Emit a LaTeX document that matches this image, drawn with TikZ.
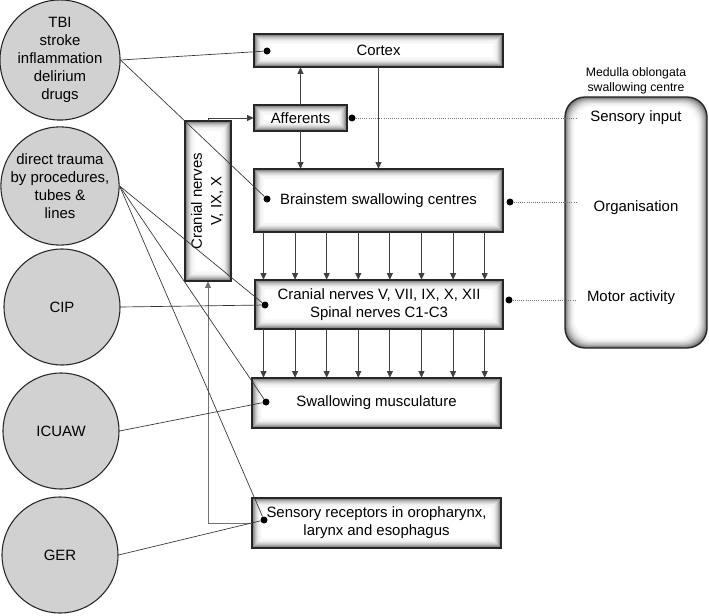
\documentclass[tikz,border=0pt]{standalone}
\usepackage{fontspec}
\usepackage{graphicx}
\setmainfont{Liberation Sans}
\usetikzlibrary{arrows.meta}
\tikzset{
  fs/.style={font=\fontsize{11.2}{13.5}\selectfont},
  fssmall/.style={font=\fontsize{9.2}{11.2}\selectfont},
  circ/.style={circle, draw=black!85, line width=0.8pt, fill=black!18, minimum size=87pt, inner sep=0pt, align=center, fs},
  shbox/.style={rectangle, inner sep=0pt, align=center, fs,
    path picture={
      \foreach \d/\g in {0/58,1/45,2/34,3/25,4/18,5/12,6/7,7/4,8/2,9/0}{
        \fill[black!\g] ([shift={(\d*0.8pt,-\d*0.8pt)}]path picture bounding box.north west) rectangle ([shift={(-\d*0.8pt,\d*0.8pt)}]path picture bounding box.south east);
      }
    },
    postaction={draw=black!85, line width=1pt}},
  medbox/.style={rectangle, rounded corners=15pt, inner sep=0pt,
    path picture={
      \foreach \d/\g in {0/58,1/45,2/34,3/25,4/18,5/12,6/7,7/4,8/2,9/0}{
        \fill[black!\g, rounded corners=15pt] ([shift={(\d*0.8pt,-\d*0.8pt)}]path picture bounding box.north west) rectangle ([shift={(-\d*0.8pt,\d*0.8pt)}]path picture bounding box.south east);
      }
    },
    postaction={draw=black!85, line width=1pt}},
  arr/.style={-{Triangle[length=5pt,width=4.5pt]}, draw=black!75, line width=0.6pt},
  con/.style={draw=black!80, line width=0.5pt},
  dotl/.style={draw=black!55, line width=0.6pt, densely dotted},
  dot/.style={circle, fill=black, inner sep=0pt, minimum size=5.25pt},
}
\begin{document}
\begin{tikzpicture}[x=0.75pt,y=-0.75pt]
\useasboundingbox (0,0) rectangle (709,616);

% circles
\node[circ] (tbi) at (60,60) {TBI\\stroke\\inflammation\\delirium\\drugs};
\node[circ] (trauma) at (60,186) {direct trauma\\by procedures,\\tubes \&\\lines};
\node[circ] (cip) at (62,307) {CIP};
\node[circ] (icuaw) at (61,431) {ICUAW};
\node[circ] (ger) at (60,555) {GER};

% boxes
\node[shbox, minimum width=186.75pt, minimum height=24.75pt] (cortex) at (378.5,50.5) {Cortex};
\node[shbox, minimum width=69.75pt, minimum height=19.5pt] (aff) at (300.5,118) {Afferents};
\node[shbox, minimum width=186.75pt, minimum height=47.25pt] (brain) at (378.5,200.5) {Brainstem swallowing centres};
\node[shbox, minimum width=186pt, minimum height=36.75pt] (cran) at (379,304.5) {Cranial nerves V, VII, IX, X, XII\\Spinal nerves C1-C3};
\node[shbox, minimum width=186.75pt, minimum height=37.5pt] (swal) at (376.5,403) {Swallowing musculature};
\node[shbox, minimum width=186.75pt, minimum height=37.5pt] (sens) at (376.5,523) {Sensory receptors in oropharynx,\\larynx and esophagus};
\node[shbox, minimum width=34.5pt, minimum height=120pt] (cn) at (208,201) {\rotatebox{90}{\begin{tabular}{@{}c@{}}Cranial nerves\\[1pt]V, IX, X\end{tabular}}};

% medulla
\node[medbox, minimum width=106.5pt, minimum height=188.25pt] (med) at (636,222.5) {};
\node[fssmall, align=center] (medlab) at (636,80.5) {Medulla oblongata\\swallowing centre};
\node[fs] (sin) at (636,118) {Sensory input};
\node[fs] (org) at (636,208) {Organisation};
\node[fs] (mot) at (631,298) {Motor activity};

% arrows between boxes
\draw[arr] (aff.north) -- (aff.north |- cortex.south);
\draw[arr] (aff.south) -- (aff.south |- brain.north);
\draw[arr] (cortex.south) -- (cortex.south |- brain.north);
\foreach \i in {0,...,7}{
  \pgfmathsetmacro\dx{7.3+23.7*\i}
  \coordinate (t\i) at ([xshift=\dx pt]brain.south west);
  \draw[arr] (t\i) -- (t\i |- cran.north);
  \draw[arr] (t\i |- cran.south) -- (t\i |- swal.north);
}
\draw[arr, draw=black!55] (sens.west) -| (cn.south);
\draw[arr] (cn.north) |- (aff.west);

% dots
\node[dot] (dc) at (267,51) {};
\node[dot] (db) at (267,199) {};
\node[dot] (dcr) at (265,305) {};
\node[dot] (dsw) at (266,402) {};
\node[dot] (dse) at (264,520) {};
\node[dot] (ra) at (352,118) {};
\node[dot] (rb) at (510,202) {};
\node[dot] (rc) at (509,300) {};

% dotted lines to medulla
\coordinate (e1) at (576,118);
\coordinate (e2) at (576,202);
\coordinate (e3) at (576,300);
\draw[dotl] (ra) -- (e1);
\draw[dotl] (rb) -- (e2);
\draw[dotl] (rc) -- (e3);

% connectors from circles
\draw[con] (tbi.east) -- (dc);
\draw[con] (tbi.east) -- (db);
\draw[con] (trauma.east) -- (dcr);
\draw[con] (trauma.east) -- (dsw);
\draw[con] (trauma.east) -- (dse);
\draw[con] (cip.east) -- (dcr);
\draw[con] (icuaw.east) -- (dsw);
\draw[con] (ger.east) -- (dse);
\end{tikzpicture}
\end{document}
